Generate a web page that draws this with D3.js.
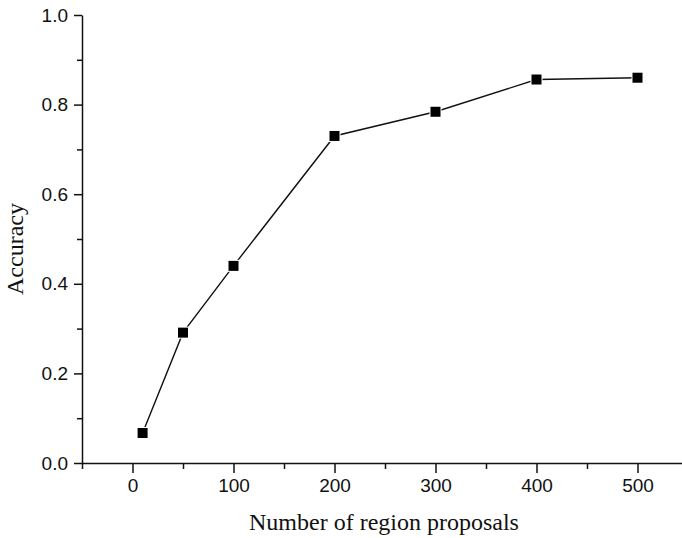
<!DOCTYPE html>
<html>
<head>
<meta charset="utf-8">
<script src="https://cdn.jsdelivr.net/npm/d3@7"></script>
<style>
  html, body { margin: 0; padding: 0; background: #fff; }
  svg { display: block; }
</style>
</head>
<body>
<div id="chart"></div>
<script>
// data
const proposals = [10, 50, 100, 200, 300, 400, 500];
const accuracy = [0.067, 0.291, 0.44, 0.73, 0.784, 0.856, 0.86];
const xTicks = [0, 100, 200, 300, 400, 500];
const yTicks = [0.0, 0.2, 0.4, 0.6, 0.8, 1.0];

const W = 682, H = 538;
const margin = { top: 15, right: -6, bottom: 75, left: 82 };
const width = W - margin.left - margin.right;
const height = H - margin.top - margin.bottom;

const svg = d3.select('#chart')
  .append('svg')
    .attr('width', W)
    .attr('height', H);

const g = svg.append('g')
  .attr('transform', `translate(${margin.left},${margin.top})`);

const x = d3.scaleLinear().domain([-50, 550]).range([0, width]);
const y = d3.scaleLinear().domain([0, 1]).range([height, 0]);

// minor ticks first, then major ticks with labels
g.append('g')
  .attr('transform', `translate(0,${height})`)
  .call(d3.axisBottom(x).tickValues(d3.range(-50, 551, 100)).tickSize(6).tickFormat(''))
  .call(s => s.select('.domain').remove());

g.append('g')
  .attr('transform', `translate(0,${height})`)
  .call(d3.axisBottom(x).tickValues(xTicks).tickSize(10).tickPadding(6).tickSizeOuter(0))
  .call(s => s.selectAll('text')
    .attr('font-family', '"Liberation Sans", Arial, sans-serif')
    .attr('font-size', 19)
    .attr('fill', '#111'));

g.append('g')
  .call(d3.axisLeft(y).tickValues(d3.range(0.1, 1, 0.2)).tickSize(5).tickFormat(''))
  .call(s => s.select('.domain').remove());

g.append('g')
  .call(d3.axisLeft(y).tickValues(yTicks).tickSize(8).tickPadding(6).tickSizeOuter(0).tickFormat(d3.format('.1f')))
  .call(s => s.selectAll('text')
    .attr('font-family', '"Liberation Sans", Arial, sans-serif')
    .attr('font-size', 19)
    .attr('fill', '#111'));

g.selectAll('.domain, .tick line')
  .attr('stroke', '#111')
  .attr('stroke-width', 1.5);

// line + square markers
const line = d3.line()
  .x((d, i) => x(proposals[i]))
  .y(d => y(d));

g.append('path')
  .datum(accuracy)
  .attr('d', line)
  .attr('fill', 'none')
  .attr('stroke', '#111')
  .attr('stroke-width', 1.4);

const ms = 10;
g.selectAll('rect.pt')
  .data(accuracy)
  .enter()
  .append('rect')
    .attr('class', 'pt')
    .attr('x', (d, i) => x(proposals[i]) - ms / 2)
    .attr('y', d => y(d) - ms / 2)
    .attr('width', ms)
    .attr('height', ms)
    .attr('fill', '#000')
    .attr('stroke', '#fff')
    .attr('stroke-width', 2)
    .attr('paint-order', 'stroke');

// axis titles
svg.append('text')
  .attr('x', 384)
  .attr('y', 530)
  .attr('text-anchor', 'middle')
  .attr('font-family', '"Liberation Serif", "Times New Roman", serif')
  .attr('font-size', 24)
  .attr('fill', '#111')
  .text('Number of region proposals');

svg.append('text')
  .attr('transform', 'translate(23,249) rotate(-90)')
  .attr('text-anchor', 'middle')
  .attr('font-family', '"Liberation Serif", "Times New Roman", serif')
  .attr('font-size', 24)
  .attr('fill', '#111')
  .text('Accuracy');
</script>
</body>
</html>
